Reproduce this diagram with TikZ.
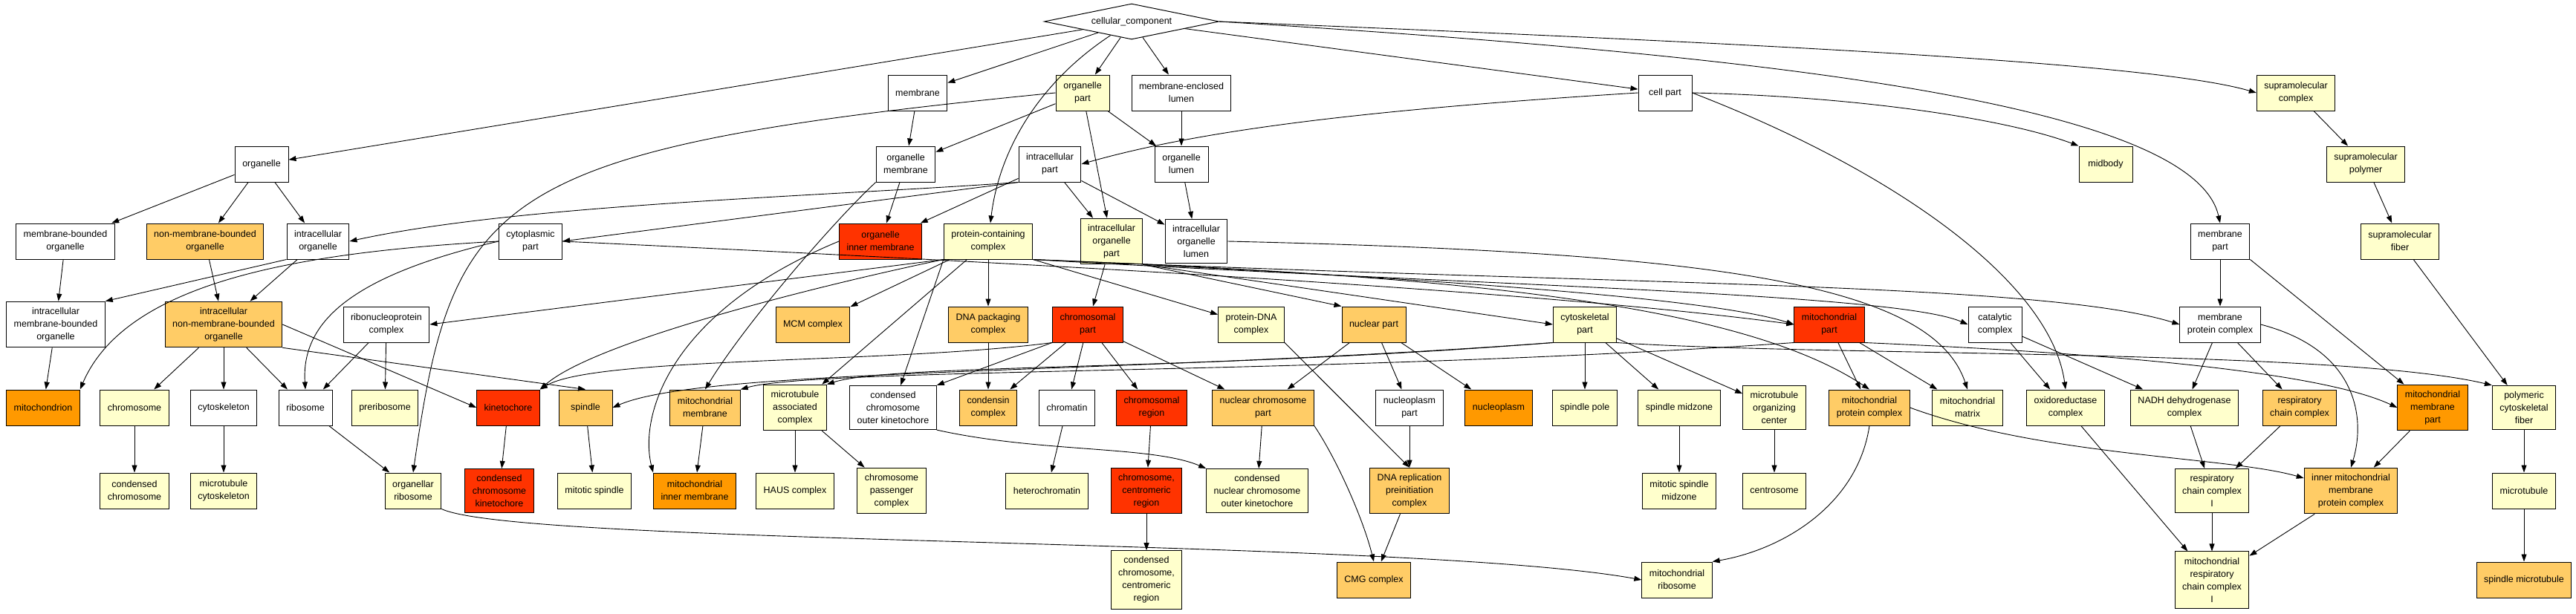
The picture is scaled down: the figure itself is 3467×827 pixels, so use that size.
\documentclass[tikz,border=0pt]{standalone}
\usepackage{fontspec}
\setmainfont{Liberation Sans}
\usetikzlibrary{arrows.meta, shapes.geometric}
\definecolor{paleC}{HTML}{FFFFCC}
\definecolor{warmC}{HTML}{FFCC66}
\definecolor{amberC}{HTML}{FF9900}
\definecolor{hotC}{HTML}{FF3300}

\begin{document}
\begin{tikzpicture}[x=1pt, y=1pt, >={Triangle[length=10pt, width=7pt]},
    main/.style = {draw, rectangle, align=center, minimum width=72pt, minimum height=48pt, inner xsep=10pt, inner ysep=8pt, line width=1pt, font=\fontsize{12.5}{17}\selectfont},
    root/.style = {draw, diamond, aspect=4.9, minimum width=235pt, minimum height=48pt, inner sep=0pt, line width=1pt, font=\fontsize{12.5}{17}\selectfont},
    pale/.style = {fill=paleC}, warm/.style = {fill=warmC},
    amber/.style = {fill=amberC}, hot/.style = {fill=hotC},
    link/.style = {->, line width=0.9pt}]
            \useasboundingbox (0,0) rectangle (3467,-827);

            % Nodes
            \node[root] (1) at (1523,-29) {cellular\_component};

            \node[main] (2) at (1235,-125) {membrane};
            \node[main, pale] (3) at (1457,-125) {organelle\\part};
            \node[main] (4) at (1590,-125) {membrane-enclosed\\lumen};
            \node[main] (5) at (2241,-125) {cell part};
            \node[main, pale] (6) at (3090,-125) {supramolecular\\complex};

            \node[main] (7) at (352,-221) {organelle};
            \node[main] (8) at (1219,-221) {organelle\\membrane};
            \node[main] (9) at (1413,-221) {intracellular\\part};
            \node[main] (10) at (1590,-221) {organelle\\lumen};
            \node[main, pale] (11) at (2834,-221) {midbody};
            \node[main, pale] (12) at (3184,-221) {supramolecular\\polymer};

            \node[main] (13) at (88,-325) {membrane-bounded\\organelle};
            \node[main, warm] (14) at (276,-325) {non-membrane-bounded\\organelle};
            \node[main] (15) at (428,-325) {intracellular\\organelle};
            \node[main] (16) at (714,-325) {cytoplasmic\\part};
            \node[main, hot] (17) at (1185,-325) {organelle\\inner membrane};
            \node[main, pale] (18) at (1330,-325) {protein-containing\\complex};
            \node[main, pale] (19) at (1496,-325) {intracellular\\organelle\\part};
            \node[main] (20) at (1610,-325) {intracellular\\organelle\\lumen};
            \node[main] (21) at (2988,-325) {membrane\\part};
            \node[main, pale] (22) at (3230,-325) {supramolecular\\fiber};

            \node[main] (23) at (75,-437) {intracellular\\membrane-bounded\\organelle};
            \node[main, warm] (24) at (301,-437) {intracellular\\non-membrane-bounded\\organelle};
            \node[main] (25) at (520,-437) {ribonucleoprotein\\complex};
            \node[main, warm] (26) at (1094,-437) {MCM complex};
            \node[main, warm] (27) at (1330,-437) {DNA packaging\\complex};
            \node[main, hot] (28) at (1464,-437) {chromosomal\\part};
            \node[main, pale] (29) at (1684,-437) {protein-DNA\\complex};
            \node[main, warm] (30) at (1849,-437) {nuclear part};
            \node[main, pale] (31) at (2133,-437) {cytoskeletal\\part};
            \node[main, hot] (32) at (2462,-437) {mitochondrial\\part};
            \node[main] (33) at (2685,-437) {catalytic\\complex};
            \node[main] (34) at (2988,-437) {membrane\\protein complex};

            \node[main, amber] (35) at (58,-549) {mitochondrion};
            \node[main, pale] (36) at (181,-549) {chromosome};
            \node[main] (37) at (301,-549) {cytoskeleton};
            \node[main] (38) at (411,-549) {ribosome};
            \node[main, pale] (39) at (518,-549) {preribosome};
            \node[main, hot] (40) at (684,-549) {kinetochore};
            \node[main, warm] (41) at (788,-549) {spindle};
            \node[main, warm] (42) at (949,-549) {mitochondrial\\membrane};
            \node[main, pale] (43) at (1070,-549) {microtubule\\associated\\complex};
            \node[main] (44) at (1202,-549) {condensed\\chromosome\\outer kinetochore};
            \node[main, warm] (45) at (1330,-549) {condensin\\complex};
            \node[main] (46) at (1436,-549) {chromatin};
            \node[main, hot] (47) at (1550,-549) {chromosomal\\region};
            \node[main, warm] (48) at (1700,-549) {nuclear chromosome\\part};
            \node[main] (49) at (1897,-549) {nucleoplasm\\part};
            \node[main, amber] (50) at (2017,-549) {nucleoplasm};
            \node[main, pale] (51) at (2133,-549) {spindle pole};
            \node[main, pale] (52) at (2260,-549) {spindle midzone};
            \node[main, pale] (53) at (2388,-549) {microtubule\\organizing\\center};
            \node[main, warm] (54) at (2516,-549) {mitochondrial\\protein complex};
            \node[main, pale] (55) at (2648,-549) {mitochondrial\\matrix};
            \node[main, pale] (56) at (2780,-549) {oxidoreductase\\complex};
            \node[main, pale] (57) at (2940,-549) {NADH dehydrogenase\\complex};
            \node[main, warm] (58) at (3095,-549) {respiratory\\chain complex};
            \node[main, amber] (59) at (3274,-549) {mitochondrial\\membrane\\part};
            \node[main, pale] (60) at (3397,-549) {polymeric\\cytoskeletal\\fiber};

            \node[main, pale] (61) at (181,-661) {condensed\\chromosome};
            \node[main, pale] (62) at (301,-661) {microtubule\\cytoskeleton};
            \node[main, pale] (63) at (556,-661) {organellar\\ribosome};
            \node[main, hot] (64) at (672,-661) {condensed\\chromosome\\kinetochore};
            \node[main, pale] (65) at (800,-661) {mitotic spindle};
            \node[main, amber] (66) at (935,-661) {mitochondrial\\inner membrane};
            \node[main, pale] (67) at (1070,-661) {HAUS complex};
            \node[main, pale] (68) at (1200,-661) {chromosome\\passenger\\complex};
            \node[main, pale] (69) at (1409,-661) {heterochromatin};
            \node[main, hot] (70) at (1543,-661) {chromosome,\\centromeric\\region};
            \node[main, pale] (71) at (1692,-661) {condensed\\nuclear chromosome\\outer kinetochore};
            \node[main, warm] (72) at (1897,-661) {DNA replication\\preinitiation\\complex};
            \node[main, pale] (73) at (2260,-661) {mitotic spindle\\midzone};
            \node[main, pale] (74) at (2388,-661) {centrosome};
            \node[main, pale] (75) at (2977,-661) {respiratory\\chain complex\\I};
            \node[main, warm] (76) at (3164,-661) {inner mitochondrial\\membrane\\protein complex};
            \node[main, pale] (77) at (3397,-661) {microtubule};

            \node[main, pale] (78) at (1543,-781) {condensed\\chromosome,\\centromeric\\region};
            \node[main, warm] (79) at (1849,-781) {CMG complex};
            \node[main, pale] (80) at (2257,-781) {mitochondrial\\ribosome};
            \node[main, pale] (81) at (2977,-781) {mitochondrial\\respiratory\\chain complex\\I};
            \node[main, warm] (82) at (3397,-781) {spindle microtubule};

            % Lines
            \draw[link] (1) -- (7);
            \draw[link] (1) -- (2);
            \draw[link] (1) -- (3);
            \draw[link] (1) -- (4);
            \draw[link] (1) .. controls (1400,-110) and (1345,-200) .. (18);
            \draw[link] (1) -- (5);
            \draw[link] (1.east) .. controls (2400,-60) and (2900,-85) .. (6.west);
            \draw[link] (1.east) .. controls (2300,-70) and (2950,-130) .. (21.north);

            \draw[link] (2) -- (8);
            \draw[link] (3) -- (8);
            \draw[link] (3) -- (10);
            \draw[link] (3) -- (19);
            \draw[link] (3.west) .. controls (660,-200) and (610,-260) .. (63.north);
            \draw[link] (4) -- (10);
            \draw[link] (5.west) .. controls (1800,-150) and (1600,-180) .. (9.east);
            \draw[link] (5.east) .. controls (2500,-130) and (2700,-160) .. (11.north west);
            \draw[link] (5.east) .. controls (2550,-230) and (2760,-380) .. (56.north);
            \draw[link] (6) -- (12);

            \draw[link] (7) -- (13);
            \draw[link] (7) -- (14);
            \draw[link] (7) -- (15);
            \draw[link] (8) -- (17);
            \draw[link] (8.south west) .. controls (1120,-300) and (1000,-440) .. (42.north);
            \draw[link] (9.south west) .. controls (1100,-265) and (700,-275) .. (15.east);
            \draw[link] (9.south west) -- (16.east);
            \draw[link] (9) -- (17);
            \draw[link] (9) -- (19);
            \draw[link] (9) -- (20);
            \draw[link] (10) -- (20);
            \draw[link] (12) -- (22);

            \draw[link] (13) -- (23);
            \draw[link] (14) -- (24);
            \draw[link] (15.south west) -- (23.north east);
            \draw[link] (15) -- (24);
            \draw[link] (16.west) .. controls (400,-340) and (170,-380) .. (35.north east);
            \draw[link] (16.west) .. controls (480,-370) and (405,-430) .. (38.north);
            \draw[link] (16.east) .. controls (1500,-360) and (2100,-395) .. (32.west);
            \draw[link] (17.west) .. controls (900,-420) and (860,-560) .. (66.north west);
            \draw[link] (18.south west) -- (25.east);
            \draw[link] (18) -- (26);
            \draw[link] (18) -- (27);
            \draw[link] (18.south east) -- (29);
            \draw[link] (18.south west) .. controls (1100,-385) and (800,-460) .. (40.north east);
            \draw[link] (18) -- (43);
            \draw[link] (18.south west) -- (44);
            \draw[link] (18.south east) .. controls (2000,-385) and (2550,-395) .. (33.west);
            \draw[link] (18.south east) .. controls (2200,-385) and (2750,-380) .. (34.west);
            \draw[link] (18.south east) .. controls (1900,-370) and (2330,-400) .. (54.north);
            \draw[link] (19) -- (28);
            \draw[link] (19.south east) -- (30.north west);
            \draw[link] (19.south east) -- (31.west);
            \draw[link] (19.south east) .. controls (1900,-375) and (2300,-400) .. (32.west);
            \draw[link] (20.east) .. controls (2300,-340) and (2600,-380) .. (55.north);
            \draw[link] (21) -- (34);
            \draw[link] (21.south east) -- (59);
            \draw[link] (22) -- (60);

            \draw[link] (23) -- (35);
            \draw[link] (24) -- (36);
            \draw[link] (24) -- (37);
            \draw[link] (24) -- (38);
            \draw[link] (24.east) -- (40.west);
            \draw[link] (24.south east) -- (41.north);
            \draw[link] (25) -- (38);
            \draw[link] (25) -- (39);
            \draw[link] (27) -- (45);
            \draw[link] (28.south west) .. controls (1200,-490) and (800,-480) .. (40.north east);
            \draw[link] (28.south west) -- (44.north east);
            \draw[link] (28) -- (45);
            \draw[link] (28) -- (46);
            \draw[link] (28) -- (47);
            \draw[link] (28) -- (48);
            \draw[link] (29.south east) -- (72.north);
            \draw[link] (30) -- (48);
            \draw[link] (30) -- (49);
            \draw[link] (30) -- (50);
            \draw[link] (31.south west) .. controls (1500,-505) and (950,-495) .. (41.east);
            \draw[link] (31.south west) .. controls (1600,-500) and (1200,-490) .. (43.north east);
            \draw[link] (31) -- (51);
            \draw[link] (31) -- (52);
            \draw[link] (31) -- (53);
            \draw[link] (31.south east) .. controls (2450,-480) and (3150,-470) .. (60.north west);
            \draw[link] (32.south west) .. controls (1800,-505) and (1100,-495) .. (42.north east);
            \draw[link] (32) -- (54);
            \draw[link] (32) -- (55);
            \draw[link] (32.south east) .. controls (2700,-470) and (3100,-490) .. (59.west);
            \draw[link] (33) -- (56);
            \draw[link] (33) -- (57);
            \draw[link] (34) -- (57);
            \draw[link] (34) -- (58);
            \draw[link] (34.east) .. controls (3170,-470) and (3185,-560) .. (76.north);

            \draw[link] (36) -- (61);
            \draw[link] (37) -- (62);
            \draw[link] (38) -- (63);
            \draw[link] (40) -- (64);
            \draw[link] (41) -- (65);
            \draw[link] (42) -- (66);
            \draw[link] (43) -- (67);
            \draw[link] (43) -- (68);
            \draw[link] (44.south east) .. controls (1400,-610) and (1550,-600) .. (71.north west);
            \draw[link] (46) -- (69);
            \draw[link] (47) -- (70);
            \draw[link] (48) -- (71);
            \draw[link] (48.south east) .. controls (1800,-620) and (1835,-700) .. (79.north);
            \draw[link] (49) -- (72);
            \draw[link] (52) -- (73);
            \draw[link] (53) -- (74);
            \draw[link] (54.east) .. controls (2750,-615) and (3000,-615) .. (76.165);
            \draw[link] (54.south) .. controls (2500,-680) and (2400,-740) .. (80.north east);
            \draw[link] (56) -- (81);
            \draw[link] (57) -- (75);
            \draw[link] (58) -- (75);
            \draw[link] (59) -- (76);
            \draw[link] (60) -- (77);

            \draw[link] (63.south east) .. controls (700,-735) and (1900,-725) .. (80.west);
            \draw[link] (70) -- (78);
            \draw[link] (72) -- (79);
            \draw[link] (75) -- (81);
            \draw[link] (76) -- (81);
            \draw[link] (77) -- (82);
        \end{tikzpicture}
\end{document}
